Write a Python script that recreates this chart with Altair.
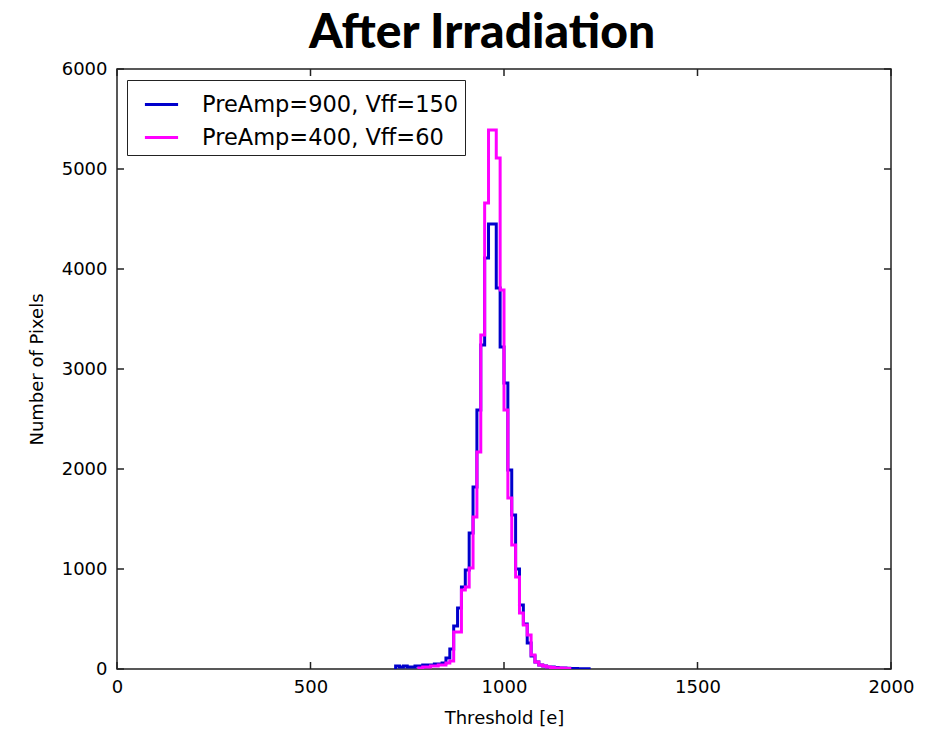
import altair as alt
import pandas as pd

# ---- data ----
bin_width = 10
series_names = ["PreAmp=900, Vff=150", "PreAmp=400, Vff=60"]
series_colors = ["#0000cc", "#ff00ff"]

blue_start = 720
blue_counts = [30, 20, 30, 20, 20, 30, 30, 40, 40, 40, 50, 50, 60,
               110, 200, 430, 610, 820, 990, 1360, 1820, 2590, 3240, 4110,
               4450, 4450, 3810, 3220, 2860, 1990, 1540, 1000, 640, 450, 260,
               130, 70, 40, 30, 20, 20, 15, 10, 10, 8, 5, 5, 3, 3, 2]

magenta_start = 780
magenta_counts = [10, 20, 20, 30, 30, 40, 40, 60, 80, 370, 370, 790, 820,
                  1010, 1520, 2170, 3340, 4660, 5390, 5390, 5110, 3790, 2590,
                  1710, 1240, 920, 560, 440, 340, 140, 70, 40, 30, 20, 15, 10,
                  10, 8, 5]

x_ticks = [0, 500, 1000, 1500, 2000]
y_ticks = [0, 1000, 2000, 3000, 4000, 5000, 6000]


def outline(name, start, counts):
    rows = [{"series": name, "x": start, "y": 0}]
    for i, c in enumerate(counts):
        rows.append({"series": name, "x": start + i * bin_width, "y": c})
    rows.append({"series": name, "x": start + len(counts) * bin_width, "y": 0})
    for k, r in enumerate(rows):
        r["idx"] = k
    return rows


df = pd.DataFrame(outline(series_names[0], blue_start, blue_counts)
                  + outline(series_names[1], magenta_start, magenta_counts))
xt = pd.DataFrame({"v": x_ticks})
yt = pd.DataFrame({"v": y_ticks})

W, H = 774, 600
TICK = 7
FRAME = "#222222"
FONT = "DejaVu Sans"

xscale = alt.Scale(domain=[0, 2000], nice=False, zero=False)
yscale = alt.Scale(domain=[0, 6000], nice=False)

lines = alt.Chart(df).mark_line(interpolate="step-after", strokeWidth=3, clip=True).encode(
    x=alt.X("x:Q", scale=xscale,
            axis=alt.Axis(title="Threshold [e]", values=x_ticks, format="d",
                          ticks=False, tickSize=0, domain=False, grid=False,
                          labelFlush=False, labelPadding=9, titlePadding=13)),
    y=alt.Y("y:Q", scale=yscale,
            axis=alt.Axis(title="Number of Pixels", values=y_ticks, format="d",
                          ticks=False, tickSize=0, domain=False, grid=False,
                          labelFlush=False, labelPadding=10, titlePadding=15)),
    color=alt.Color("series:N",
                    scale=alt.Scale(domain=series_names, range=series_colors),
                    legend=alt.Legend(title=None, orient="none", legendX=10, legendY=11,
                                      symbolType="stroke", symbolStrokeWidth=3,
                                      symbolSize=1100, labelFontSize=22.5,
                                      labelFont=FONT, labelColor="black",
                                      labelLimit=0,
                                      strokeColor=FRAME, fillColor="white",
                                      padding=6, rowPadding=3, symbolOffset=10,
                                      labelOffset=22, cornerRadius=0)),
    detail="series:N",
    order="idx:Q",
)

tick_style = dict(color=FRAME, strokeWidth=1.5)
xb = alt.Chart(xt).mark_rule(**tick_style).encode(
    x=alt.X("v:Q", scale=xscale), y=alt.value(H), y2=alt.value(H - TICK))
xtop = alt.Chart(xt).mark_rule(**tick_style).encode(
    x=alt.X("v:Q", scale=xscale), y=alt.value(0), y2=alt.value(TICK))
yl = alt.Chart(yt).mark_rule(**tick_style).encode(
    y=alt.Y("v:Q", scale=yscale), x=alt.value(0), x2=alt.value(TICK))
yr = alt.Chart(yt).mark_rule(**tick_style).encode(
    y=alt.Y("v:Q", scale=yscale), x=alt.value(W), x2=alt.value(W - TICK))

chart = alt.layer(lines, xb, xtop, yl, yr).properties(
    width=W, height=H,
    background="white",
    title=alt.TitleParams("After Irradiation", fontSize=48, font="Lato",
                          fontWeight=900, color="black", anchor="middle",
                          dx=-22, dy=20, offset=22, baseline="top"),
    autosize=alt.AutoSizeParams(type="none"),
    padding={"left": 109, "top": 61, "right": 29, "bottom": 61},
).configure_view(
    stroke=FRAME, strokeWidth=1.5
).configure_axis(
    labelFont=FONT, labelFontSize=18, labelColor="black",
    titleFont=FONT, titleFontSize=18, titleColor="black", titleFontWeight="normal",
)

chart.save("out.html", embed_options={"renderer": "svg", "actions": False})
